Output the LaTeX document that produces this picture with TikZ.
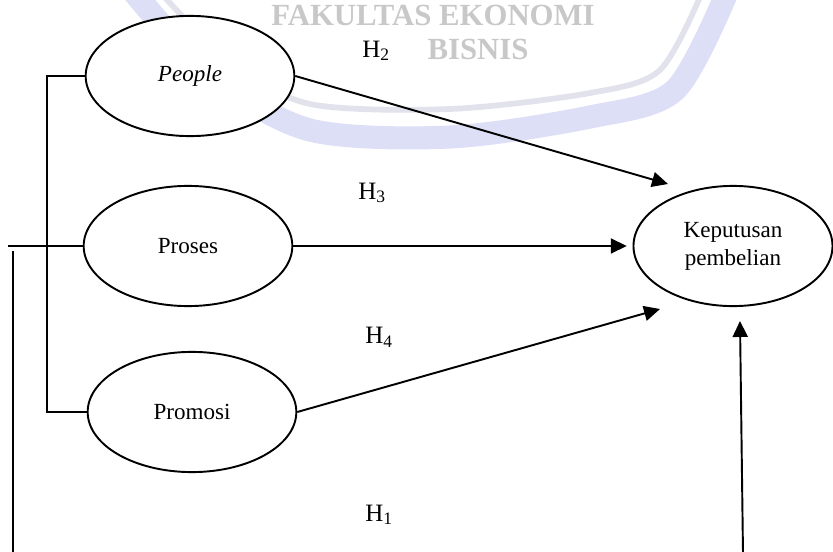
\documentclass[tikz,border=0pt]{standalone}
\usepackage{fontspec}
\setmainfont{Liberation Serif}
\usepackage{tikz}
\usetikzlibrary{arrows.meta,positioning,shapes.geometric}
\definecolor{cMark}{HTML}{DCDFF6}
\definecolor{cMarkThin}{HTML}{E2E2EC}
\definecolor{cMarkText}{HTML}{C8C8C8}
\tikzset{
  var/.style  ={draw, ellipse, line width=1pt, fill=white, inner sep=0pt, align=center,
                minimum width=108.5pt, minimum height=62.5pt, font=\fontsize{12}{14.5}\selectfont},
  hyp/.style  ={anchor=base west, inner sep=0pt, font=\fontsize{13}{15}\selectfont},
  link/.style ={line width=1pt},
  arrow/.style={-{Triangle[length=8.3pt,width=7.8pt]}, line width=1pt},
  wmband/.style ={line width=12pt, cMark},
  wmthin/.style ={line width=3pt, cMarkThin},
  marktext/.style={cMarkText, anchor=base, inner sep=0pt, font=\fontsize{16}{18}\selectfont\bfseries},
}
\begin{document}
\begin{tikzpicture}[x=0.52pt,y=-0.52pt]
  \useasboundingbox (0,0) rectangle (833,552);
  % faint watermark behind the model
  \begin{scope}
    \clip (0,0) rectangle (833,552);
    \draw[wmband] plot[smooth] coordinates {(132,-10) (210,75) (310,130) (450,137) (590,117) (675,90) (728,-10)};
    \draw[wmthin] plot[smooth] coordinates {(158,-10) (230,62) (310,104) (450,109) (590,93) (660,70) (703,-10)};
    \node[marktext] (wmA) at (433,25) {FAKULTAS EKONOMI};
    \node[marktext] (wmB) at (478,60) {BISNIS};
  \end{scope}
  % variables
  \node[var] (people)  at (190,76)  {\itshape People};
  \node[var] (proses)  at (188,246) {Proses};
  \node[var] (promosi) at (192,412) {Promosi};
  \node[var, minimum width=103.5pt] (kp) at (733,246) {Keputusan\\pembelian};
  % hypotheses
  \node[hyp] (h2) at (362,57)  {H\textsubscript{2}};
  \node[hyp] (h3) at (358,199) {H\textsubscript{3}};
  \node[hyp] (h4) at (365,344) {H\textsubscript{4}};
  \node[hyp] (h1) at (365,521) {H\textsubscript{1}};
  % ends of the connectors
  \coordinate (tipP)  at (668,184);
  \coordinate (tipM)  at (660,309);
  \coordinate (tipH)  at (740,321);
  \coordinate (footH) at (743,553);
  \coordinate (brk)   at (47,250);
  \coordinate (prL)   at (8,246);
  \coordinate (vTop)  at (13,251);
  \coordinate (vBot)  at (13,553);
  % connectors
  \draw[link] (people.west) -| (brk) |- (promosi.west);
  \draw[link] (proses.west) -- (prL);
  \draw[link] (vTop) -- (vBot);
  \draw[arrow] (people.east) -- (tipP);
  \draw[arrow, shorten >=3pt] (proses.east) -- (kp.west);
  \draw[arrow] (promosi.east) -- (tipM);
  \draw[arrow] (footH) -- (tipH);
\end{tikzpicture}
\end{document}
